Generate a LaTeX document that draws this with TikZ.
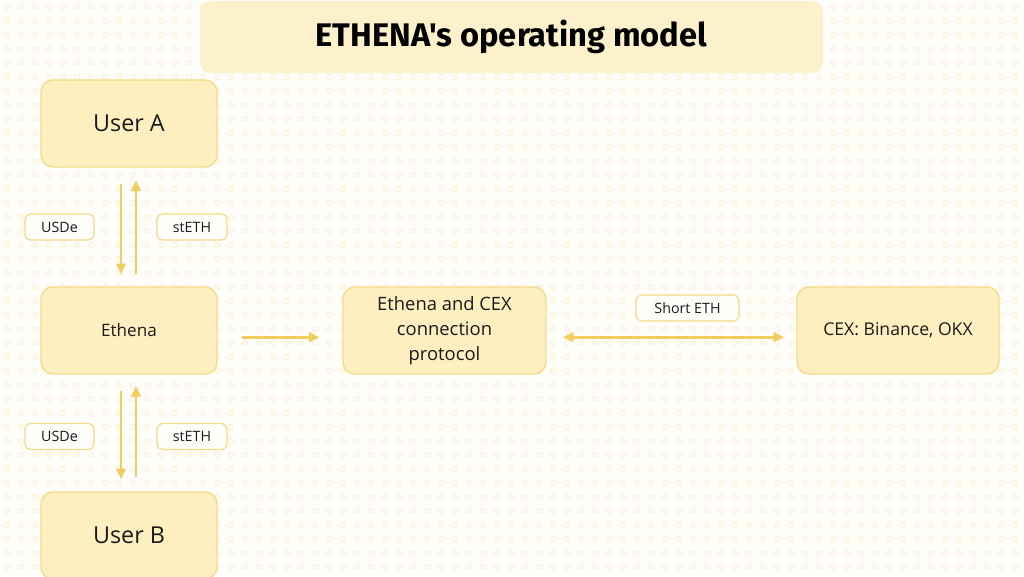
\documentclass[tikz,border=0pt]{standalone}
\usepackage{fontspec}
\setmainfont{Open Sans}
\newfontfamily\titlefont{Fira Sans}
\usetikzlibrary{arrows.meta}
\definecolor{bgc}{HTML}{FFFEFA}
\definecolor{dotc}{HTML}{FBF1D6}
\definecolor{boxfill}{HTML}{FEEFC0}
\definecolor{boxline}{HTML}{F5DA86}
\definecolor{titlefill}{HTML}{FDF1CB}
\definecolor{arrc}{HTML}{F0CD5C}
\definecolor{txt}{HTML}{1A1A1A}
\tikzset{
  bigbox/.style={draw=boxline, line width=1pt, fill=boxfill, rounded corners=9pt, minimum width=132pt, minimum height=65.25pt, text=txt, align=center},
  tagbox/.style={draw=boxline, line width=0.9pt, fill=bgc, rounded corners=4pt, minimum height=19.5pt, text=txt, font=\fontsize{10.7}{12}\selectfont},
  flow/.style={draw=arrc, line width=2pt, -{Triangle[length=8pt,width=7pt]}},
  flow2/.style={draw=arrc, line width=2pt, {Triangle[length=8pt,width=7pt]}-{Triangle[length=8pt,width=7pt]}},
}
\begin{document}
\begin{tikzpicture}[x=0.75pt,y=-0.75pt]
\clip (0,0) rectangle (1024,576);
\fill[bgc] (0,0) rectangle (1024,576);
\foreach \i in {0,...,72}{
  \foreach \j in {0,...,40}{
    \draw[dotc, line width=0.8pt] (7+\i*14, 7+\j*14) circle (2.6);
  }
}
% title
\node[fill=titlefill, rounded corners=8pt, minimum width=467.25pt, minimum height=54pt, text=black,
      font=\titlefont\bfseries\fontsize{24.5}{28}\selectfont] (title) at (511.5,37) {ETHENA's operating model};
% main boxes
\node[bigbox, font=\fontsize{17.5}{20}\selectfont] (ua) at (129,123.5) {User A};
\node[bigbox, font=\fontsize{12.8}{15}\selectfont] (eth) at (129,330.5) {Ethena};
\node[bigbox, font=\fontsize{17.5}{20}\selectfont] (ub) at (129,535.5) {User B};
\node[bigbox, minimum width=152.25pt, font=\fontsize{13.8}{18.75}\selectfont] (prot) at (444.5,330.5) {Ethena and CEX\\connection\\protocol};
\node[bigbox, minimum width=151.5pt, font=\fontsize{13.2}{15}\selectfont] (cex) at (898,330.5) {CEX: Binance, OKX};
% tags
\node[tagbox, minimum width=51.75pt] (t1) at (59.5,227) {USDe};
\node[tagbox, minimum width=52.5pt] (t2) at (192,227) {stETH};
\node[tagbox, minimum width=51.75pt] (t3) at (59.5,436.5) {USDe};
\node[tagbox, minimum width=52.5pt] (t4) at (192,436.5) {stETH};
\node[tagbox, minimum width=77.25pt] (t5) at (687.5,308) {Short ETH};
% arrows
\draw[flow, shorten <=12pt, shorten >=9pt] ([xshift=-6pt]ua.south) -- ([xshift=-6pt]eth.north);
\draw[flow, shorten <=9pt, shorten >=9.5pt] ([xshift=5.25pt]eth.north) -- ([xshift=5.25pt]ua.south);
\draw[flow, shorten <=12pt, shorten >=9pt] ([xshift=-6pt]eth.south) -- ([xshift=-6pt]ub.north);
\draw[flow, shorten <=10.5pt, shorten >=8.5pt] ([xshift=5.25pt]ub.north) -- ([xshift=5.25pt]eth.south);
\draw[flow, shorten <=18pt, shorten >=17pt] ([yshift=-5pt]eth.east) -- ([yshift=-5pt]prot.west);
\draw[flow2, shorten <=12pt, shorten >=9pt] ([yshift=-5pt]prot.east) -- ([yshift=-5pt]cex.west);
\end{tikzpicture}
\end{document}
